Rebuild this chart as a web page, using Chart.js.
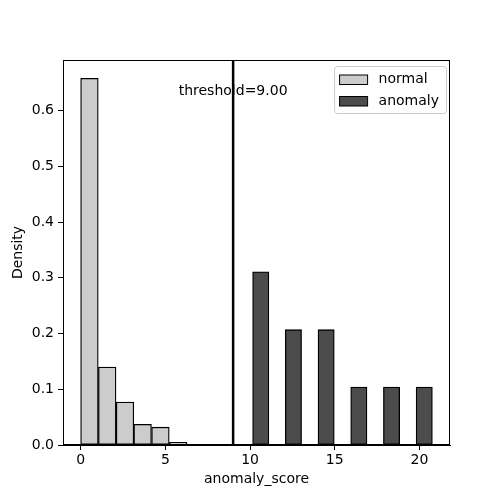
<!DOCTYPE html>
<html>
<head>
<meta charset="utf-8">
<script src="https://cdn.jsdelivr.net/npm/chart.js@4/dist/chart.umd.min.js"></script>
<style>
  html, body { margin: 0; padding: 0; background: #fff; }
  #wrap { width: 500px; height: 500px; }
</style>
</head>
<body>
<div id="wrap"><canvas id="histCanvas" width="500" height="500"></canvas></div>
<script>
// Données (histogrammes de densité)
const normalCenters = [0.52, 1.57, 2.62, 3.66, 4.71, 5.76, 6.81, 7.85];
const normalDensity = [0.658, 0.140, 0.077, 0.037, 0.032, 0.005, 0.0013, 0.0013];

const anomalyCenters = [10.63, 11.60, 12.56, 13.53, 14.49, 15.46, 16.42, 17.39, 18.35, 19.32, 20.28];
const anomalyDensity = [0.311, 0, 0.207, 0, 0.207, 0, 0.104, 0, 0.104, 0, 0.104];

const xTicks = [0, 5, 10, 15, 20];
const yTicks = [0.0, 0.1, 0.2, 0.3, 0.4, 0.5, 0.6];
const xRange = [-1.04, 21.80];
const yRange = [0, 0.691];

const threshold = 9.0;
const thresholdTextY = 0.635;

const FONT = "'DejaVu Sans', sans-serif";
const FONT_SIZE = 14;

// Ligne de seuil + texte (le texte est dessiné sous la ligne)
const thresholdPlugin = {
    id: 'threshold',
    afterDatasetsDraw(chart) {
        const ctx = chart.ctx;
        const x = chart.scales.x.getPixelForValue(threshold);
        const y = chart.scales.y.getPixelForValue(thresholdTextY);
        const area = chart.chartArea;
        ctx.save();
        ctx.font = FONT_SIZE + "px " + FONT;
        ctx.fillStyle = "#000";
        ctx.textAlign = "center";
        ctx.textBaseline = "middle";
        ctx.fillText("threshold=" + threshold.toFixed(2), x, y);
        ctx.beginPath();
        ctx.moveTo(x, area.top);
        ctx.lineTo(x, area.bottom);
        ctx.strokeStyle = "#000";
        ctx.lineWidth = 2.5;
        ctx.stroke();
        ctx.restore();
    }
};

// Cadre complet + légende en haut à droite
const framePlugin = {
    id: 'frame',
    afterDraw(chart) {
        const ctx = chart.ctx;
        const a = chart.chartArea;
        ctx.save();
        ctx.strokeStyle = "#000";
        ctx.lineWidth = 1;
        ctx.strokeRect(Math.round(a.left) + 0.5, Math.round(a.top) + 0.5,
                       Math.round(a.right - a.left) - 1, Math.round(a.bottom - a.top) - 1);

        // Légende
        ctx.font = FONT_SIZE + "px " + FONT;
        const items = chart.data.datasets;
        let maxW = 0;
        items.forEach(d => { maxW = Math.max(maxW, ctx.measureText(d.label).width); });
        const boxW = 5.5 + 28 + 11 + maxW + 7;
        const boxH = 47;
        const bx = a.right - 4 - boxW;
        const by = a.top + 6;
        ctx.beginPath();
        ctx.roundRect(bx + 0.5, by + 0.5, boxW, boxH, 3);
        ctx.fillStyle = "rgba(255,255,255,0.8)";
        ctx.fill();
        ctx.strokeStyle = "#cccccc";
        ctx.stroke();
        items.forEach((d, i) => {
            const cy = by + 13.5 + i * 21.5;
            ctx.fillStyle = d.backgroundColor;
            ctx.fillRect(bx + 5.5, cy - 4.5, 28, 9.5);
            ctx.strokeStyle = "#000";
            ctx.lineWidth = 1;
            ctx.strokeRect(bx + 5.5, cy - 4.5, 28, 9.5);
            ctx.fillStyle = "#000";
            ctx.textAlign = "left";
            ctx.textBaseline = "middle";
            ctx.fillText(d.label, bx + 5.5 + 28 + 11, cy);
        });
        ctx.restore();
    }
};

const tickFont = { family: FONT, size: FONT_SIZE };

const chart = new Chart(document.getElementById("histCanvas"), {
    type: 'bar',
    data: {
        datasets: [{
            label: 'normal',
            data: normalCenters.map((x, i) => ({ x: x, y: normalDensity[i] })),
            xAxisID: 'x',
            backgroundColor: '#cccccc',
            borderColor: '#000000',
            borderWidth: 1.3,
            borderSkipped: false,
            grouped: false,
            barPercentage: 1,
            categoryPercentage: 1
        }, {
            label: 'anomaly',
            data: anomalyCenters.map((x, i) => ({ x: x, y: anomalyDensity[i] })),
            xAxisID: 'x2',
            backgroundColor: '#4c4c4c',
            borderColor: '#000000',
            borderWidth: 1.3,
            borderSkipped: false,
            grouped: false,
            barPercentage: 1,
            categoryPercentage: 1
        }]
    },
    options: {
        responsive: false,
        animation: false,
        layout: { padding: { left: 0, top: 60, right: 50, bottom: 0 } },
        plugins: {
            legend: { display: false },
            tooltip: { enabled: false }
        },
        scales: {
            x: {
                type: 'linear',
                position: 'bottom',
                offset: false,
                min: xRange[0],
                max: xRange[1],
                afterBuildTicks: s => { s.ticks = xTicks.map(v => ({ value: v })); },
                afterFit: s => { s.height = 55; },
                grid: { offset: false, drawOnChartArea: false, drawTicks: true, tickLength: 5, color: '#000' },
                border: { display: true, color: '#000', width: 1 },
                ticks: { color: '#000', font: tickFont, padding: 2 },
                title: { display: true, text: 'anomaly_score', color: '#000', font: tickFont, padding: { top: 2, bottom: 12 } }
            },
            x2: {
                type: 'linear',
                display: false,
                offset: false,
                min: xRange[0],
                max: xRange[1],
                grid: { offset: false },
                afterBuildTicks: s => { s.ticks = xTicks.map(v => ({ value: v })); }
            },
            y: {
                type: 'linear',
                min: yRange[0],
                max: yRange[1],
                afterBuildTicks: s => { s.ticks = yTicks.map(v => ({ value: v })); },
                afterFit: s => { s.width = 63; },
                grid: { drawOnChartArea: false, drawTicks: true, tickLength: 5, color: '#000' },
                border: { display: true, color: '#000', width: 1 },
                ticks: { color: '#000', font: tickFont, padding: 4, callback: v => v.toFixed(1) },
                title: { display: true, text: 'Density', color: '#000', font: tickFont, padding: { top: 10, bottom: 4 } }
            }
        }
    },
    plugins: [thresholdPlugin, framePlugin]
});
</script>
</body>
</html>
